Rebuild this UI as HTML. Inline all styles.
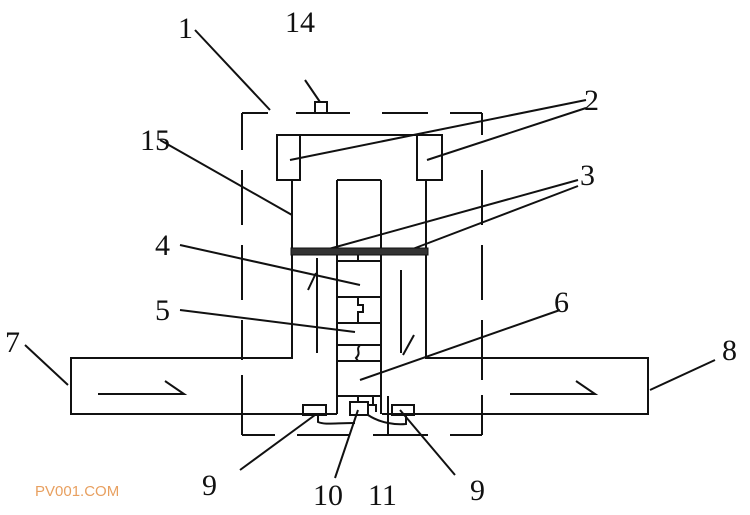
<!DOCTYPE html>
<html><head><style>
html,body{margin:0;padding:0;background:#fff;}
svg{display:block}
text{font-family:"Liberation Serif",serif;font-size:30px;fill:#111}
</style></head><body>
<svg width="750" height="515" viewBox="0 0 750 515" xmlns="http://www.w3.org/2000/svg">
<g stroke="#111" stroke-width="2" fill="none">
<!-- dashed housing -->
<path d="M242 113H268 M296 113H350 M382 113H428 M450 113H482" />
<path d="M242 113V150 M242 170V225 M242 245V300 M242 320V360 M242 375V435" />
<path d="M482 113V135 M482 170V225 M482 245V300 M482 320V380 M482 395V435" />
<path d="M242 435H275 M297 435H350 M373 435H428 M450 435H482" />
<!-- 14 -->
<rect x="315" y="102" width="12" height="11"/>
<!-- top bar and boxes 2 -->
<path d="M277 135H442"/>
<rect x="277" y="135" width="23" height="45"/>
<rect x="417" y="135" width="25" height="45"/>
<path d="M292 180V358H242 M426 180V358H482"/>
<!-- pipes -->
<path d="M242 358H71V414H337 M482 358H648V414H382"/>
<!-- center column -->
<path d="M337 180H381 M337 180V414 M381 180V414"/>
<path d="M337 261H381 M358 255V261 M337 297H381 M337 323H381 M337 345H381 M337 361H381 M337 396H381"/>
<path d="M358 297V305H363V312H358V323 M360 345C355 350,362 352,356 358L358 361"/>
<!-- inner verticals -->
<path d="M317 258V353 M401 270V353"/>
<path d="M308 290L316 273 M403 355L414 335"/>
<!-- arrows -->
<path d="M98 394H184L165 381 M510 394H595L576 381"/>
<!-- bottom parts -->
<rect x="303" y="405" width="23" height="10"/>
<rect x="350" y="402" width="18" height="13"/>
<rect x="392" y="405" width="22" height="10"/>
<path d="M358 396V402 M373 396V405 M381 396V412 M368 405H376V412 M388 396V435"/>
<path d="M318 415V422C325 425,335 423,355 423 M368 415C380 423,395 425,406 424V415"/>
<!-- leaders -->
<path d="M195 30L270 110 M305 80L320 102 M586 100L290 160 M586 108L427 160"/>
<path d="M160 140L292 215 M578 180L325 250 M578 186L410 250"/>
<path d="M180 245L360 285 M180 310L355 332 M560 310L360 380"/>
<path d="M25 345L68 385 M715 360L650 390"/>
<path d="M240 470L315 415 M335 478L358 410 M455 475L400 410"/>
</g>
<rect x="291" y="248" width="137" height="7" fill="#333" stroke="#111" stroke-width="1"/>
<text x="178" y="38">1</text>
<text x="285" y="32">14</text>
<text x="584" y="110">2</text>
<text x="140" y="150">15</text>
<text x="580" y="185">3</text>
<text x="155" y="255">4</text>
<text x="155" y="320">5</text>
<text x="554" y="312">6</text>
<text x="5" y="352">7</text>
<text x="722" y="360">8</text>
<text x="202" y="495">9</text>
<text x="313" y="505">10</text>
<text x="368" y="505">11</text>
<text x="470" y="500">9</text>
<text x="35" y="496" style="font-family:'Liberation Sans',sans-serif;font-size:15px;fill:#e8a060">PV001.COM</text>
</svg>
</body></html>
